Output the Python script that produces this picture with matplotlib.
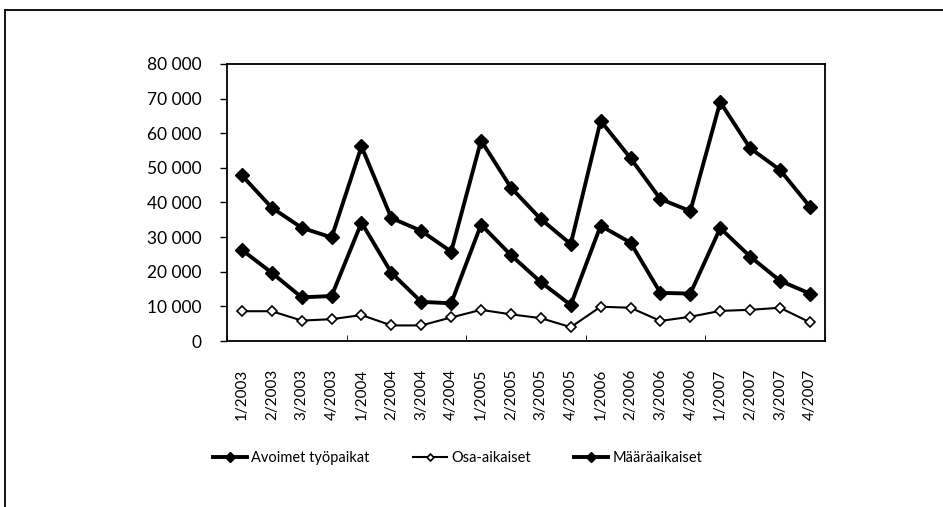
import numpy as np
import matplotlib
matplotlib.use("Agg")
import matplotlib.pyplot as plt
from matplotlib.lines import Line2D
from matplotlib.ticker import FuncFormatter

plt.rcParams['font.family'] = ['Lato', 'DejaVu Sans']

quarters = ["1/2003", "2/2003", "3/2003", "4/2003",
            "1/2004", "2/2004", "3/2004", "4/2004",
            "1/2005", "2/2005", "3/2005", "4/2005",
            "1/2006", "2/2006", "3/2006", "4/2006",
            "1/2007", "2/2007", "3/2007", "4/2007"]

avoimet = [47800, 38500, 32700, 29900, 56200, 35500, 31800, 25800,
           57900, 44300, 35200, 28000, 63600, 52800, 41000, 37500,
           69000, 55700, 49400, 38800]
osa_aikaiset = [8600, 8600, 5900, 6300, 7500, 4500, 4500, 6800,
                9000, 7700, 6600, 4000, 9900, 9600, 5800, 7000,
                8700, 9000, 9600, 5400]
maaraaikaiset = [26300, 19700, 12600, 13000, 34200, 19700, 11300, 10900,
                 33600, 24800, 17000, 10400, 33300, 28400, 13900, 13700,
                 32600, 24400, 17400, 13700]

fig = plt.figure(figsize=(9.43, 5.07), dpi=100)
ax = fig.add_axes([0.2407, 0.3274, 0.634, 0.5464])

x = np.arange(len(quarters))
ax.plot(x, avoimet, color='black', lw=2.8, marker='D', markersize=7,
        label='Avoimet työpaikat')
ax.plot(x, osa_aikaiset, color='black', lw=1.5, marker='D', markersize=5,
        markerfacecolor='white', markeredgewidth=1.2, label='Osa-aikaiset')
ax.plot(x, maaraaikaiset, color='black', lw=2.8, marker='D', markersize=7,
        label='Määräaikaiset')

ax.set_xlim(-0.5, len(quarters) - 0.5)
ax.set_ylim(0, 80000)
ax.set_yticks(np.arange(0, 80001, 10000))
ax.yaxis.set_major_formatter(FuncFormatter(lambda v, p: f"{int(v):,}".replace(",", " ")))
ax.tick_params(axis='y', labelsize=12.5, length=5, width=1, pad=13)

ax.set_xticks(x)
ax.set_xticklabels(quarters, rotation=90, fontsize=11)
ax.tick_params(axis='x', length=0, pad=20)
ax.set_xticks(np.arange(-0.5, len(quarters), 4), minor=True)
ax.tick_params(axis='x', which='minor', direction='in', length=4)

for s in ax.spines.values():
    s.set_color('black')
    s.set_linewidth(1.3)

fig.legend(loc='center left', bbox_to_anchor=(0.212, 1 - 458 / 507), ncol=3,
           frameon=False, fontsize=10.5, handlelength=2.3, columnspacing=3.0,
           handletextpad=0.3, markerscale=0.7)

# outer frame around the chart area (cropped on right and bottom)
fig.add_artist(Line2D([5 / 943, 1.0], [1 - 10 / 507, 1 - 10 / 507],
                      transform=fig.transFigure, color='black', lw=1.3))
fig.add_artist(Line2D([5 / 943, 5 / 943], [0.0, 1 - 10 / 507],
                      transform=fig.transFigure, color='black', lw=1.3))

fig.savefig("out.png", dpi=100)
